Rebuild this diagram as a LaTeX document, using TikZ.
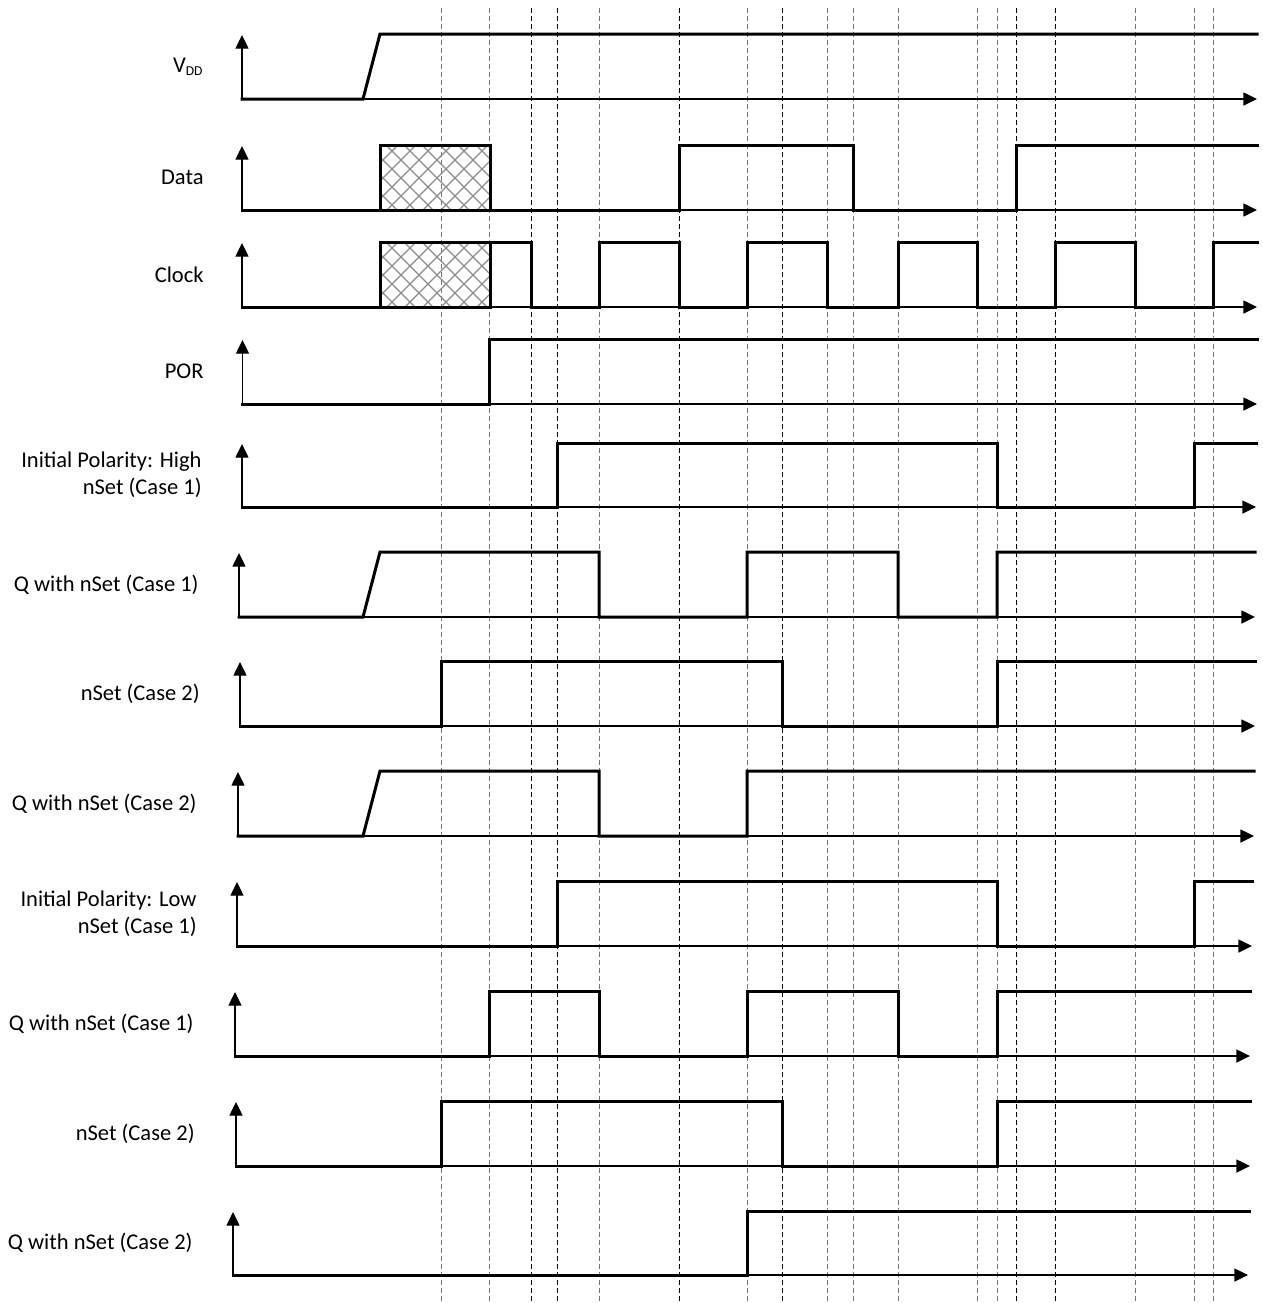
\documentclass[tikz,border=0pt]{standalone}
\usepackage{fontspec}
\setmainfont{Carlito}
\usetikzlibrary{arrows.meta}
\newcommand\sigaxes[4]{%
  \draw[axisline] (#1,#3) -- (#1,#4+1);
  \draw[axisline] (#1,#3) -- (#2,#3);
}
\newcommand\hatchbox[4]{%
  \begin{scope}
    \clip (#1,#2) rectangle (#3,#4);
    \foreach \k in {0,...,12} {
      \draw[hatchline] (#1-66+\k*18,#2) -- ++(66,66);
      \draw[hatchline] (#1+\k*18,#2) -- ++(-66,66);
    }
  \end{scope}
  \draw[wave] (#1,#4) rectangle (#3,#2);
}
\begin{document}
\begin{tikzpicture}[x=0.5pt,y=-0.5pt,
  wave/.style={line width=1.5pt, line join=miter, line cap=rect},
  axisline/.style={line width=0.6pt, -{Triangle[length=6.8pt,width=6.5pt]}},
  gridgray/.style={dash pattern=on 2.5pt off 1.5pt, draw=black!55, line width=0.5pt},
  gridblack/.style={dash pattern=on 2.5pt off 1.5pt, draw=black, line width=0.5pt},
  hatchline/.style={draw=black!45, line width=0.6pt},
  lab/.style={anchor=east, inner sep=0pt, align=right, font=\fontsize{11.25pt}{13.4pt}\selectfont},
]
\useasboundingbox (0,0) rectangle (1263,1303);

% dashed time markers
\foreach \x in {441.5,489.5,599,747,827,853,898,977.5,997,1135.5,1194,1213}
  \draw[gridgray] (\x,8) -- (\x,1303);
\foreach \x in {531,557.5,679.5,782,1016,1055.5}
  \draw[gridblack] (\x,8) -- (\x,1303);

% axes: x0, xend, ylow, yhigh
\sigaxes{242}{1257}{99}{34}
\sigaxes{242}{1257}{210}{145}
\sigaxes{242}{1257}{307}{242}
\sigaxes{242.5}{1257}{404}{339}
\sigaxes{242}{1256}{507}{443}
\sigaxes{239}{1255}{617}{552}
\sigaxes{240}{1255}{726}{661}
\sigaxes{238}{1254}{836}{771}
\sigaxes{237}{1252}{946}{881}
\sigaxes{235}{1250}{1056}{991}
\sigaxes{236}{1250}{1166}{1101}
\sigaxes{233}{1248}{1275}{1211}

% labels
\node[lab] (lvdd) at (203,66.5) {V\raisebox{-1.7pt}{\fontsize{6.8pt}{8pt}\selectfont DD}};
\node[lab] (ldata) at (204,177.5) {Data};
\node[lab] (lclk) at (204,274.5) {Clock};
\node[lab] (lpor) at (204,371.5) {POR};
\node[lab] (lh1) at (202,475) {Initial Polarity: High\\nSet (Case 1)};
\node[lab] (lh2) at (199,584.5) {Q with nSet (Case 1)};
\node[lab] (lh3) at (200,693.5) {nSet (Case 2)};
\node[lab] (lh4) at (197,803.5) {Q with nSet (Case 2)};
\node[lab] (ll1) at (197,913.5) {Initial Polarity: Low\\nSet (Case 1)};
\node[lab] (ll2) at (194,1023.5) {Q with nSet (Case 1)};
\node[lab] (ll3) at (195,1133.5) {nSet (Case 2)};
\node[lab] (ll4) at (193,1243) {Q with nSet (Case 2)};

% waveforms
% VDD
\draw[wave] (242,99) -- (363,99) -- (380,34) -- (1257,34);
% Data
\draw[wave] (242,210) -- (380,210);
\hatchbox{380}{145}{490}{210}
\draw[wave] (490,210) -- (679.5,210) -- (679.5,145) -- (853,145) -- (853,210) -- (1016,210) -- (1016,145) -- (1257,145);
% Clock
\draw[wave] (242,307) -- (380,307);
\hatchbox{380}{242}{490}{307}
\draw[wave] (490,242) -- (531,242) -- (531,307) -- (599,307) -- (599,242) -- (679.5,242) -- (679.5,307) -- (747,307) -- (747,242) -- (827,242) -- (827,307) -- (898,307) -- (898,242) -- (977.5,242) -- (977.5,307) -- (1055.5,307) -- (1055.5,242) -- (1135.5,242) -- (1135.5,307) -- (1213,307) -- (1213,242) -- (1257,242);
% POR
\draw[wave] (242.5,404) -- (489.5,404) -- (489.5,339) -- (1257,339);
% Initial polarity high
\draw[wave] (242,507) -- (557.5,507) -- (557.5,443) -- (997,443) -- (997,507) -- (1194,507) -- (1194,443) -- (1256,443);
\draw[wave] (239,617) -- (363,617) -- (380,552) -- (599,552) -- (599,617) -- (747,617) -- (747,552) -- (898,552) -- (898,617) -- (997,617) -- (997,552) -- (1255,552);
\draw[wave] (240,726) -- (441.5,726) -- (441.5,661) -- (782,661) -- (782,726) -- (997,726) -- (997,661) -- (1255,661);
\draw[wave] (238,836) -- (363,836) -- (380,771) -- (599,771) -- (599,836) -- (747,836) -- (747,771) -- (1254,771);
% Initial polarity low
\draw[wave] (237,946) -- (557.5,946) -- (557.5,881) -- (997,881) -- (997,946) -- (1194,946) -- (1194,881) -- (1252,881);
\draw[wave] (235,1056) -- (489.5,1056) -- (489.5,991) -- (599,991) -- (599,1056) -- (747,1056) -- (747,991) -- (898,991) -- (898,1056) -- (997,1056) -- (997,991) -- (1250,991);
\draw[wave] (236,1166) -- (441.5,1166) -- (441.5,1101) -- (782,1101) -- (782,1166) -- (997,1166) -- (997,1101) -- (1250,1101);
\draw[wave] (233,1275) -- (747,1275) -- (747,1211) -- (1249,1211);
\end{tikzpicture}
\end{document}
